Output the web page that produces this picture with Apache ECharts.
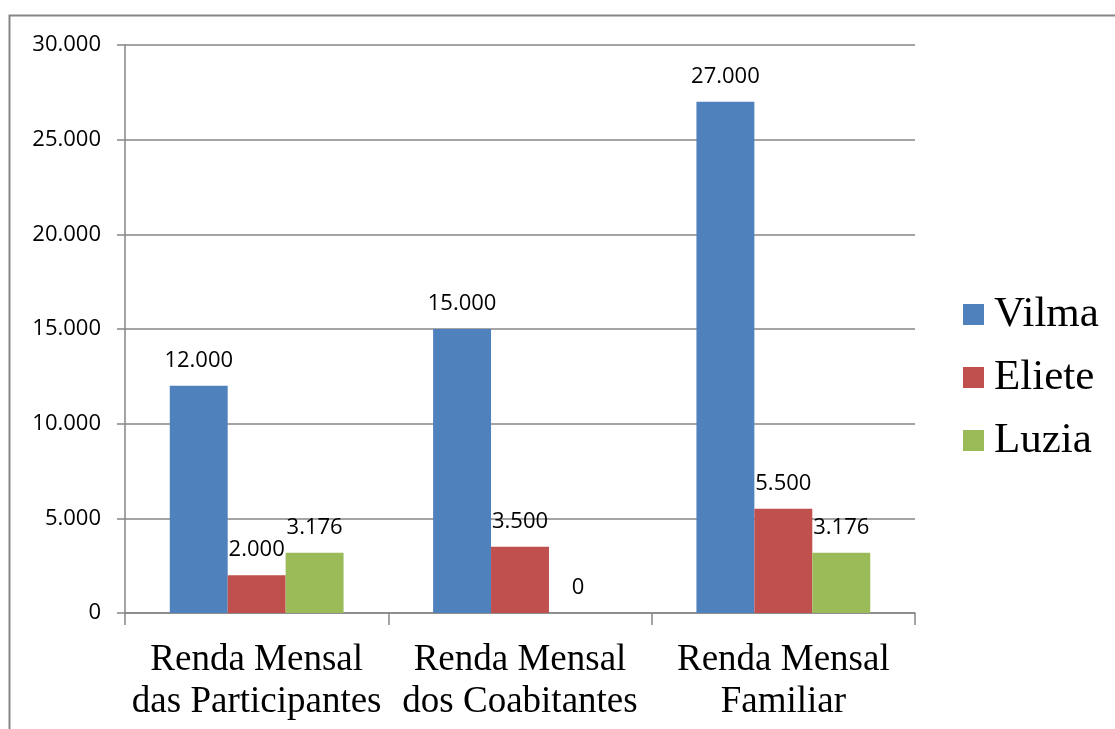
<!DOCTYPE html>
<html lang="pt">
<head>
    <meta charset="UTF-8">
    <title>Renda Mensal</title>
    <script src="https://cdn.jsdelivr.net/npm/echarts@6/dist/echarts.min.js"></script>
    <style>
        body { margin: 0; background: #fff; }
        #chart { width: 1115px; height: 729px; }
    </style>
</head>
<body>
    <div id="chart"></div>
    <script>
        var categorias = ['Renda Mensal\ndas Participantes', 'Renda Mensal\ndos Coabitantes', 'Renda Mensal\nFamiliar'];
        var vilma = [12000, 15000, 27000];
        var eliete = [2000, 3500, 5500];
        var luzia = [3176, 0, 3176];
        var nomes = ['Vilma', 'Eliete', 'Luzia'];
        var cores = ['#4f81bd', '#c0504d', '#9bbb59'];

        function fmt(v) {
            return String(v).replace(/\B(?=(\d{3})+(?!\d))/g, '.');
        }

        function serie(nome, dados, cor) {
            return {
                name: nome,
                type: 'bar',
                data: dados,
                barGap: '0%',
                barCategoryGap: '34%',
                itemStyle: { color: cor },
                label: {
                    show: true,
                    position: 'top',
                    distance: 14,
                    color: '#000',
                    fontFamily: 'Open Sans',
                    fontSize: 22,
                    formatter: function (p) { return fmt(p.value); }
                }
            };
        }

        var myChart = echarts.init(document.getElementById('chart'));
        var option = {
            animation: false,
            graphic: [{
                type: 'rect',
                shape: { x: 9.5, y: 15.5, width: 1200, height: 800 },
                style: { fill: 'none', stroke: '#868686', lineWidth: 2 },
                silent: true
            }],
            grid: { left: 125, right: 200, top: 45, bottom: 116 },
            legend: {
                orient: 'vertical',
                left: 958,
                top: 288,
                itemWidth: 21,
                itemHeight: 21,
                itemGap: 20,
                icon: 'rect',
                textStyle: { fontFamily: 'Liberation Serif', fontSize: 43, lineHeight: 43, color: '#000', padding: [0, 0, 0, 5] },
                data: nomes
            },
            xAxis: {
                type: 'category',
                data: categorias,
                axisLine: { lineStyle: { color: '#868686', width: 1.5 } },
                axisTick: { show: true, length: 12, lineStyle: { color: '#868686', width: 1.5 } },
                axisLabel: {
                    fontFamily: 'Liberation Serif',
                    fontSize: 37,
                    lineHeight: 42,
                    color: '#000',
                    margin: 26,
                    interval: 0
                }
            },
            yAxis: {
                type: 'value',
                min: 0,
                max: 30000,
                interval: 5000,
                axisLine: { show: true, lineStyle: { color: '#868686', width: 1.5 } },
                axisTick: { show: true, length: 8, lineStyle: { color: '#868686', width: 1.5 } },
                splitLine: { lineStyle: { color: '#868686', width: 1.5 } },
                axisLabel: {
                    fontFamily: 'Open Sans',
                    fontSize: 22,
                    color: '#000',
                    margin: 24,
                    formatter: fmt
                }
            },
            series: [
                serie(nomes[0], vilma, cores[0]),
                serie(nomes[1], eliete, cores[1]),
                serie(nomes[2], luzia, cores[2])
            ]
        };
        myChart.setOption(option);
    </script>
</body>
</html>
